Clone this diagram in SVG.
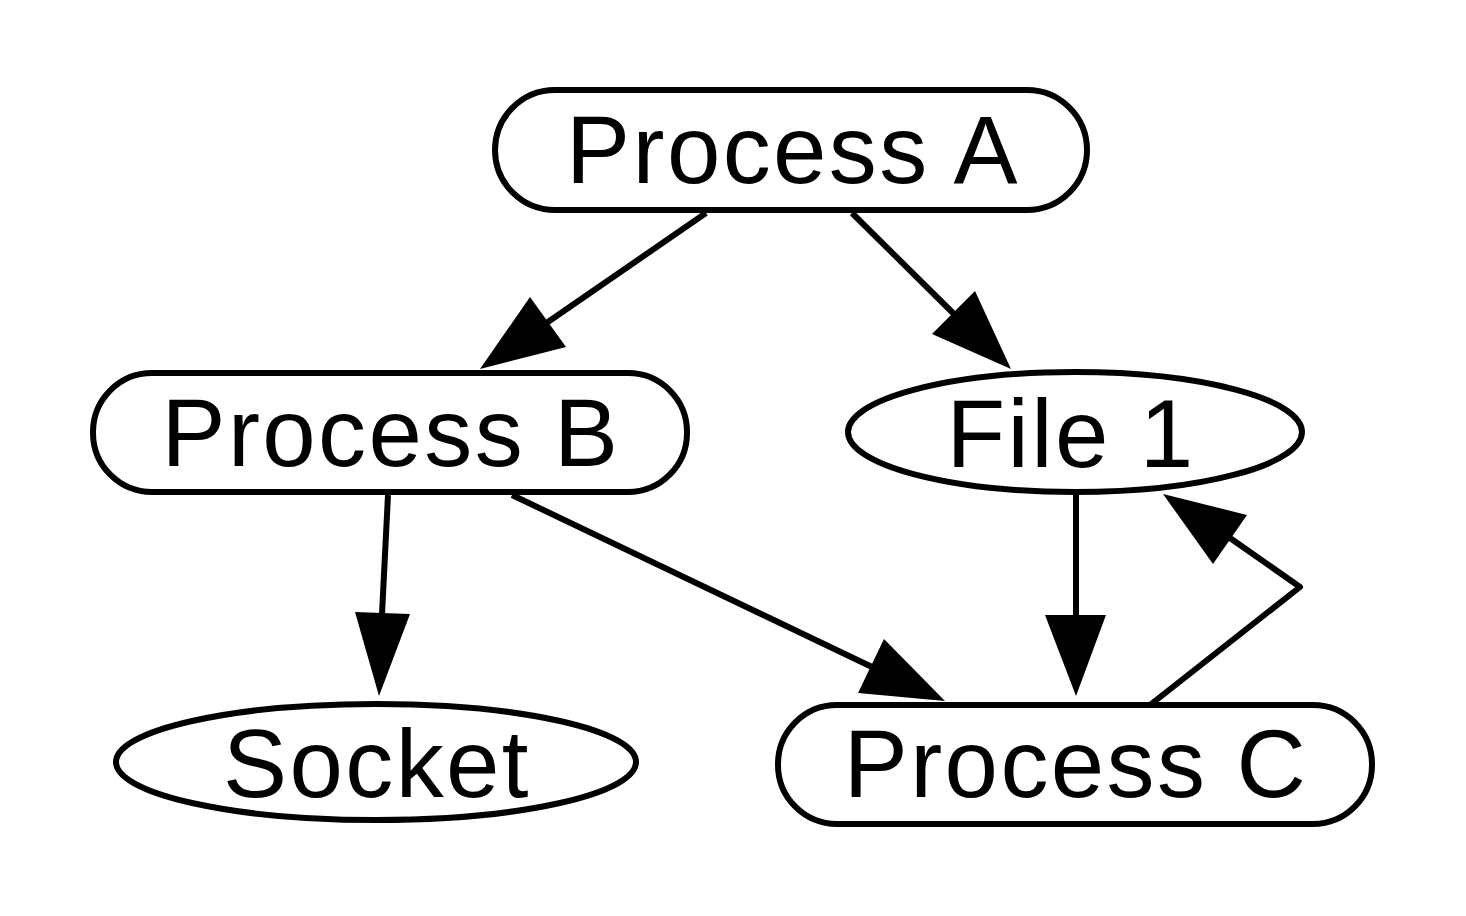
<svg xmlns="http://www.w3.org/2000/svg" width="1466" height="916" viewBox="0 0 1466 916">
<style>
.n{fill:#fff;stroke:#000;stroke-width:6}
.t{font-family:"Liberation Sans",Arial,sans-serif;font-size:96px;letter-spacing:2.4px;text-anchor:middle;fill:#000}
.e{fill:none;stroke:#000;stroke-width:6;stroke-linejoin:round}
.h{fill:#000;stroke:none}
</style>
<rect width="1466" height="916" fill="#fff"/>
<g id="connectors">
<path class="e" d="M706,213 L545,324"/>
<polygon class="h" points="480,369 530,297 566,347"/>
<path class="e" d="M852,213 L955,315"/>
<polygon class="h" points="1011,369 975,291 932,334"/>
<path class="e" d="M388,495 L382,614"/>
<polygon class="h" points="379,696 355,612 410,614"/>
<path class="e" d="M512,495 L872,667"/>
<polygon class="h" points="945,701 884,639 858,693"/>
<path class="e" d="M1076,495 L1076,615"/>
<polygon class="h" points="1076,696 1045,615 1106,615"/>
<path class="e" d="M1150,705 L1300,587 L1230,538"/>
<polygon class="h" points="1163,494 1213,564 1247,515"/>
</g>
<g id="processA">
<rect class="n" x="495" y="90" width="592" height="120" rx="60" ry="60"/>
<text class="t" x="793" y="183">Process A</text>
</g>
<g id="processB">
<rect class="n" x="93" y="373" width="594" height="119" rx="59" ry="59"/>
<text class="t" x="391" y="466">Process B</text>
</g>
<g id="file1">
<ellipse class="n" cx="1075" cy="432" rx="227" ry="60"/>
<text class="t" x="1071" y="467">File 1</text>
</g>
<g id="socket">
<ellipse class="n" cx="376" cy="762" rx="260" ry="58"/>
<text class="t" x="377" y="797">Socket</text>
</g>
<g id="processC">
<rect class="n" x="778" y="705" width="594" height="119" rx="59" ry="59"/>
<text class="t" x="1076" y="797">Process C</text>
</g>
</svg>
